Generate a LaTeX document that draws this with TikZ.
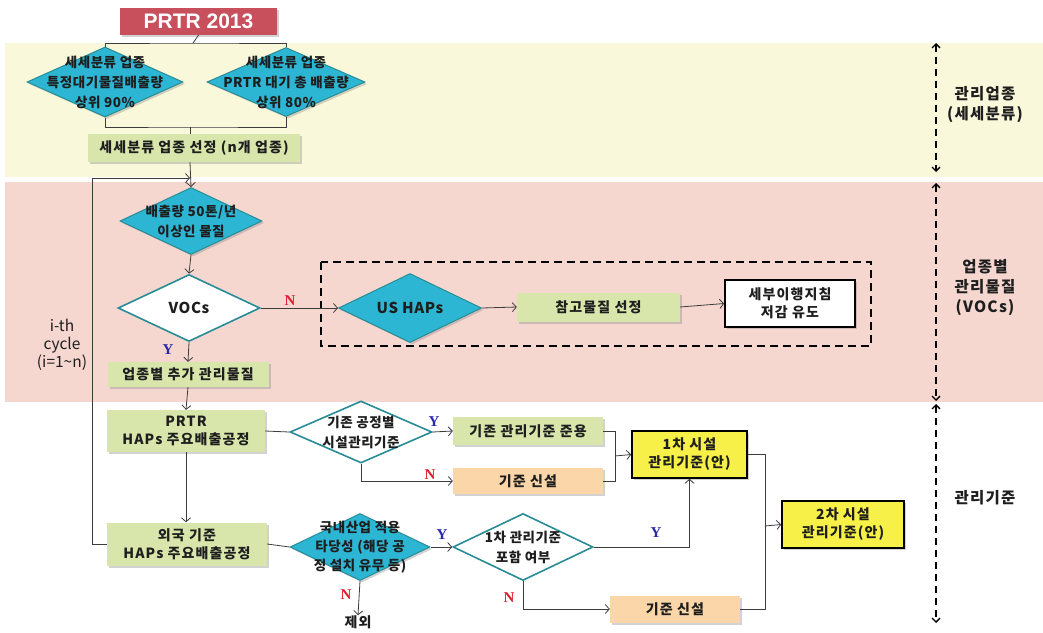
\documentclass[tikz,border=0pt]{standalone}
\usepackage{fontspec}
\setmainfont{Noto Sans CJK KR}
\newfontfamily\krs{Noto Sans CJK KR}[LetterSpace=8]
\newfontfamily\krd{Noto Sans CJK KR}[LetterSpace=4]
\newfontfamily\ynfont{Liberation Serif}
\newfontfamily\latfont{Liberation Sans}
\usetikzlibrary{shapes.geometric,arrows.meta,shadows}
\definecolor{ybg}{RGB}{250,248,218}
\definecolor{pbg}{RGB}{245,215,208}
\definecolor{prtrred}{RGB}{200,80,92}
\definecolor{cyanf}{RGB}{45,182,212}
\definecolor{tealb}{RGB}{40,140,150}
\definecolor{greenf}{RGB}{216,230,172}
\definecolor{peachf}{RGB}{250,214,168}
\definecolor{yellf}{RGB}{246,240,72}
\definecolor{linec}{RGB}{60,60,60}
\definecolor{yblue}{RGB}{40,40,170}
\definecolor{nred}{RGB}{225,30,50}
\definecolor{txt}{RGB}{30,30,30}
\newcommand\boxfont{\krs\fontsize{14}{18}\selectfont\bfseries}
\newcommand\diafont{\krd\fontsize{13.5}{20}\selectfont\bfseries}
\tikzset{
  shad/.style={drop shadow={shadow xshift=2pt,shadow yshift=-2pt,opacity=0.35}},
  box/.style={rectangle, inner sep=2pt, align=center, font=\boxfont, text=txt, shad},
  gbox/.style={box, fill=greenf},
  obox/.style={box, fill=peachf},
  ybox/.style={box, fill=yellf, draw=black, line width=1.6pt},
  wbox/.style={box, fill=white, draw=black, line width=1.6pt},
  cdia/.style={diamond, fill=cyanf, draw=tealb, line width=1pt, inner sep=0pt, shad},
  wdia/.style={diamond, fill=white, draw=tealb, line width=1.6pt, inner sep=0pt},
  dtxt/.style={align=center, font=\diafont, text=txt, inner sep=0pt},
  ln/.style={draw=linec, line width=0.8pt},
  arr/.style={ln, -{Straight Barb[length=4pt,width=9pt]}},
  ylab/.style={font=\ynfont\fontsize{15}{15}\selectfont\bfseries, text=yblue, inner sep=0pt},
  nlab/.style={font=\ynfont\fontsize{15}{15}\selectfont\bfseries, text=nred, inner sep=0pt},
  side/.style={align=center, font=\krs\fontsize{15.5}{20}\selectfont\bfseries, text=txt},
  dasharr/.style={draw=black, line width=1.3pt, dash pattern=on 7pt off 5pt,
    {Straight Barb[length=4pt,width=8pt]}-{Straight Barb[length=4pt,width=8pt]}},
}
\begin{document}
\begin{tikzpicture}[x=1pt,y=-1pt]
\useasboundingbox (0,0) rectangle (1043,632);
\fill[white] (0,0) rectangle (1043,632);
\fill[ybg] (5,43) rectangle (1043,177);
\fill[pbg] (5,182) rectangle (1043,402);

% top section
\node[rectangle, fill=prtrred, minimum width=157pt, minimum height=27pt, inner sep=0pt,
  font=\latfont\fontsize{21}{21}\selectfont\bfseries, text=white, shad] (prtr) at (198.5,21.5) {PRTR 2013};
\node[cdia, minimum width=156pt, minimum height=70pt] (d1) at (105,82) {};
\node[dtxt] (d1t) at (d1) {세세분류 업종\\특정대기물질배출량\\상위 90\%};
\node[cdia, minimum width=158pt, minimum height=69pt] (d2) at (286,82) {};
\node[dtxt] (d2t) at (d2) {세세분류 업종\\PRTR 대기 총 배출량\\상위 80\%};
\node[gbox, minimum width=212pt, minimum height=28pt] (sel) at (194,148) {세세분류 업종 선정 (n개 업종)};
\coordinate (top) at (193,43);
\coordinate (mid) at (190,127);
\draw[ln] (prtr.south) -- (top);
\draw[ln] (d1.north) |- (top) -| (d2.north);
\draw[ln] (d1.south) |- (mid) -| (d2.south);
\draw[ln] (mid) -- (mid |- sel.north);

% middle section
\node[cdia, minimum width=142pt, minimum height=67pt] (d3) at (191,221) {};
\node[dtxt] (d3t) at (d3) {배출량 50톤/년\\이상인 물질};
\node[wdia, minimum width=142pt, minimum height=67pt] (voc) at (189,308) {};
\node[dtxt, font=\krd\fontsize{15}{20}\selectfont\bfseries] (voct) at (voc) {VOCs};
\node[gbox, minimum width=161pt, minimum height=25pt] (add) at (188,374.5) {업종별 추가 관리물질};
\node[cdia, minimum width=143pt, minimum height=69pt] (us) at (410,308) {};
\node[dtxt, font=\krd\fontsize{15}{20}\selectfont\bfseries] (ust) at (us) {US HAPs};
\node[gbox, minimum width=163pt, minimum height=29pt] (ref) at (598.5,307) {참고물질 선정};
\node[wbox, minimum width=130pt, minimum height=47pt] (guide) at (790,303.5) {세부이행지침\\저감 유도};
\draw[black, line width=1.3pt, dash pattern=on 8pt off 5pt] (321,262) rectangle (871,346);

\coordinate (loopin) at (190,178);
\draw[arr] (sel.south -| 190,0) -- (d3.north);
\draw[arr] (d3.south) -- (voc.north);
\draw[arr] (voc.east) -- (us.west);
\node[nlab] (n1) at (290,301) {N};
\draw[arr] (voc.south) -- (add.north);
\node[ylab] (y1) at (168,350) {Y};
\draw[arr] (us.east) -- (ref.west);
\draw[arr] (ref.east) -- (guide.west);

% bottom section
\node[gbox, minimum width=158pt, minimum height=42pt] (ph) at (186,431) {PRTR\\HAPs 주요배출공정};
\node[gbox, minimum width=160pt, minimum height=43pt] (fo) at (187,544) {외국 기준\\HAPs 주요배출공정};
\draw[arr] (add.south) -- (ph.north);
\draw[arr] (ph.south) -- (ph.south |- fo.north);
\draw[arr] (fo.west) -- ++(-14,0) |- (loopin);

\node[wdia, minimum width=142pt, minimum height=62pt] (dk) at (361,432) {};
\node[dtxt] (dkt) at (dk) {기존 공정별\\시설관리기준};
\node[cdia, minimum width=140pt, minimum height=67pt] (dn) at (360,547) {};
\node[dtxt, font=\krd\fontsize{13.5}{19}\selectfont\bfseries] (dnt) at (dn) {국내산업 적용\\타당성 (해당 공\\정 설치 유무 등)};
\node[gbox, minimum width=150pt, minimum height=28pt] (b1) at (528,431) {기존 관리기준 준용};
\node[obox, minimum width=150pt, minimum height=26pt] (b2) at (528,481) {기준 신설};
\node[ybox, minimum width=115pt, minimum height=47pt] (c1) at (689.5,454.5) {1차 시설\\관리기준(안)};
\node[wdia, minimum width=140pt, minimum height=67pt] (dq) at (523,547) {};
\node[dtxt] (dqt) at (dq) {1차 관리기준\\포함 여부};
\node[obox, minimum width=130pt, minimum height=27pt] (b3) at (675,609) {기준 신설};
\node[ybox, minimum width=122pt, minimum height=47pt] (c2) at (843,524.5) {2차 시설\\관리기준(안)};
\node[font=\boxfont, text=txt, inner sep=0pt] (ex) at (358,622) {제외};

\draw[ln] (ph.east) -- (dk.west);
\draw[arr] (dk.east) -- (b1.west);
\node[ylab] (y2) at (434,422) {Y};
\draw[arr] (dk.south) |- (b2.west);
\node[nlab] (n2) at (430,475) {N};
\coordinate (j1) at (615,456);
\draw[ln] (b1.east) -| (j1);
\draw[ln] (b2.east) -| (j1);
\draw[arr] (j1) -- (c1.west);

\draw[ln] (fo.east) -- (dn.west);
\draw[arr] (dn.east) -- (dq.west);
\node[ylab] (y3) at (442,535) {Y};
\draw[arr] (dn.south) -- (ex.north);
\node[nlab] (n3) at (346,595) {N};
\draw[arr] (dq.east) -| (c1.south);
\node[ylab] (y4) at (656,533) {Y};
\draw[arr] (dq.south) |- (b3.west);
\node[nlab] (n4) at (509,598) {N};
\coordinate (j2) at (765,526);
\draw[ln] (c1.east) -| (j2);
\draw[ln] (b3.east) -| (j2);
\draw[arr] (j2) -- (c2.west);

% left label
\node[align=center, font=\fontsize{15.5}{18}\selectfont, text=txt] (cyc) at (62,345) {i-th\\cycle\\(i=1\textasciitilde n)};

% right side
\coordinate (a1) at (936,43);
\coordinate (a2) at (936,172);
\coordinate (a3) at (936,183);
\coordinate (a4) at (936,401);
\coordinate (a5) at (936,404);
\coordinate (a6) at (936,623);
\draw[dasharr] (a1) -- (a2);
\draw[dasharr] (a3) -- (a4);
\draw[dasharr] (a5) -- (a6);
\node[side] (s1) at (985,105) {관리업종\\(세세분류)};
\node[side] (s2) at (985,288) {업종별\\관리물질\\(VOCs)};
\node[side] (s3) at (985,498) {관리기준};
\end{tikzpicture}
\end{document}
